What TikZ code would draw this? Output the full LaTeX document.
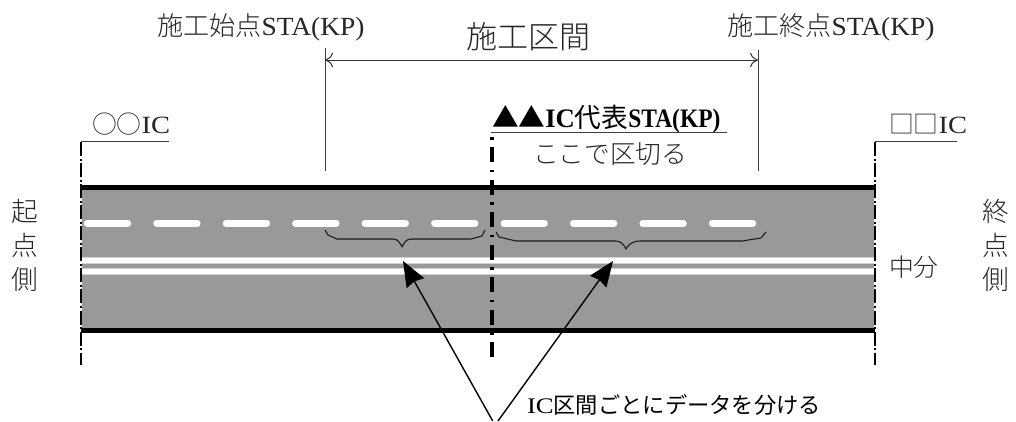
\documentclass[tikz,border=0pt]{standalone}
\usepackage{fontspec}
\usepackage{graphicx}
\usetikzlibrary{arrows.meta}
\setmainfont{Liberation Serif}
\newfontfamily\jp{Noto Sans CJK JP Light}
\newfontfamily\jpb{Noto Sans CJK JP}
\newcommand{\fs}[1]{\fontsize{#1}{#1}\selectfont}
\tikzset{
  x=0.75pt,y=-0.75pt,
  lab/.style={anchor=base west,inner sep=0pt,outer sep=0pt,text=black!85},
  labb/.style={anchor=base west,inner sep=0pt,outer sep=0pt,text=black},
  rule line/.style={line width=0.75pt,draw=black!75},
  chain line/.style={line width=2.6pt,draw=black,dash pattern=on 1.9pt off 5.6pt on 11.3pt off 5.6pt},
  edge chain/.style={line width=1.9pt,draw=black,dash pattern=on 10.5pt off 1.9pt on 1.5pt off 1.9pt},
  kerb/.style={fill=black,draw=none},
  lane dash/.style={line width=4.8pt,draw=white,line cap=round},
  median/.style={line width=4.2pt,draw=white},
  brace line/.style={line width=0.8pt,draw=black!90,line join=round},
  call arrow/.style={line width=1.05pt,draw=black,-{Stealth[length=19pt,width=15pt,inset=1.5pt]}},
  span arrow/.style={line width=0.75pt,draw=black!80,{To[length=6pt,width=11pt]}-{To[length=6pt,width=11pt]}},
}
\begin{document}
\begin{tikzpicture}
\useasboundingbox (0,0) rectangle (1016,421);
% road
\fill[black!40] (82,188) rectangle (874,330);
\fill[kerb] (81,185) rectangle (875,190);
\fill[kerb] (81,328) rectangle (875,333);
\foreach \k in {0,...,9}{
  \pgfmathsetmacro{\xa}{87+69.45*\k}
  \pgfmathsetmacro{\xb}{\xa+41}
  \draw[lane dash] (\xa,223.3) -- (\xb,223.3);
}
\coordinate (ma) at (82,260.3); \coordinate (mb) at (874,260.3);
\coordinate (mc) at (82,271.3); \coordinate (md) at (874,271.3);
\draw[line width=5pt,draw=black!18] (ma) -- (mb);
\draw[line width=5pt,draw=black!18] (mc) -- (md);
\draw[median] (ma) -- (mb);
\draw[median] (mc) -- (md);
% labels
\node[lab] (start) at (157,36) {\jp\fs{19.6pt}施工始点\rmfamily\scalebox{1.05}[1]{STA(KP)}};
\node[lab] (end) at (727,36) {\jp\fs{19.6pt}施工終点\rmfamily\scalebox{1.05}[1]{STA(KP)}};
\node[lab] (span) at (466,48) {\jp\fs{23.3pt}施工区間};
\node[lab] (ooic) at (92,133) {\jp\fs{18.6pt}○○\rmfamily\scalebox{1.15}[1]{IC}};
\node[lab] (ssic) at (889,133) {\jp\fs{18.6pt}□□\rmfamily\scalebox{1.15}[1]{IC}};
\node[labb] (rep) at (492,127) {\jpb\bfseries\fs{20pt}▲▲\rmfamily\bfseries\scalebox{1.0}[1]{IC}\jpb\mdseries 代表\rmfamily\bfseries\scalebox{0.88}[1]{STA(KP)}};
\node[lab] (cut) at (533,163) {\jp\fs{19.3pt}ここで区切る};
\node[labb] (sep) at (527,413) {\jpb\fs{16.7pt}\rmfamily\scalebox{1.2}[1]{IC}\jpb 区間ごとにデータを分ける};
\node[lab] (cen) at (889,276) {\jp\fs{18.6pt}中分};
\node[lab,anchor=center] (a1) at (25,211) {\jp\fs{20pt}起};
\node[lab,anchor=center] (a2) at (25,245) {\jp\fs{20pt}点};
\node[lab,anchor=center] (a3) at (25,279) {\jp\fs{20pt}側};
\node[lab,anchor=center] (b1) at (996,211) {\jp\fs{20pt}終};
\node[lab,anchor=center] (b2) at (996,245) {\jp\fs{20pt}点};
\node[lab,anchor=center] (b3) at (996,279) {\jp\fs{20pt}側};
% leader and chain lines
\coordinate (la) at (81,142); \coordinate (lb) at (81,365); \coordinate (lc) at (169,141.5);
\coordinate (ra) at (875,142); \coordinate (rb) at (875,365); \coordinate (rc) at (957,141.5);
\coordinate (ca) at (492,137); \coordinate (cb) at (492,357); \coordinate (cc) at (727,132.5);
\draw[edge chain] (la) -- (lb);
\draw[edge chain] (ra) -- (rb);
\draw[chain line] (ca) -- (cb);
\draw[rule line] (81,141.5) -- (lc);
\draw[rule line] (875,141.5) -- (rc);
\draw[rule line] (491,132.5) -- (cc);
% span
\coordinate (sa) at (325,48); \coordinate (sb) at (325,171);
\coordinate (se) at (758,50); \coordinate (sf) at (758,171);
\coordinate (sl) at (325,60); \coordinate (sr) at (758,60);
\draw[rule line] (sa) -- (sb);
\draw[rule line] (se) -- (sf);
\draw[span arrow] (sl) -- (sr);
% braces
\draw[brace line] (325,230) -- (328,235) -- (337,239) -- (393,239) .. controls (398,239) and (400,243) .. (402,247) .. controls (404,243) and (406,239) .. (411,239) -- (471,239) -- (482,236) -- (485,230);
\draw[brace line] (496,232) -- (499,237) -- (516,241) -- (616,241) .. controls (621,241) and (624,245) .. (626,249) .. controls (628,245) and (632,241) .. (640,241) -- (742,241) -- (761,238) -- (766,232);
% call-out arrows
\coordinate (ta) at (403,261); \coordinate (tb) at (613,261);
\coordinate (fa) at (492.7,421); \coordinate (fb) at (498,421);
\draw[call arrow] (fa) -- (ta);
\draw[call arrow] (fb) -- (tb);
\end{tikzpicture}
\end{document}
